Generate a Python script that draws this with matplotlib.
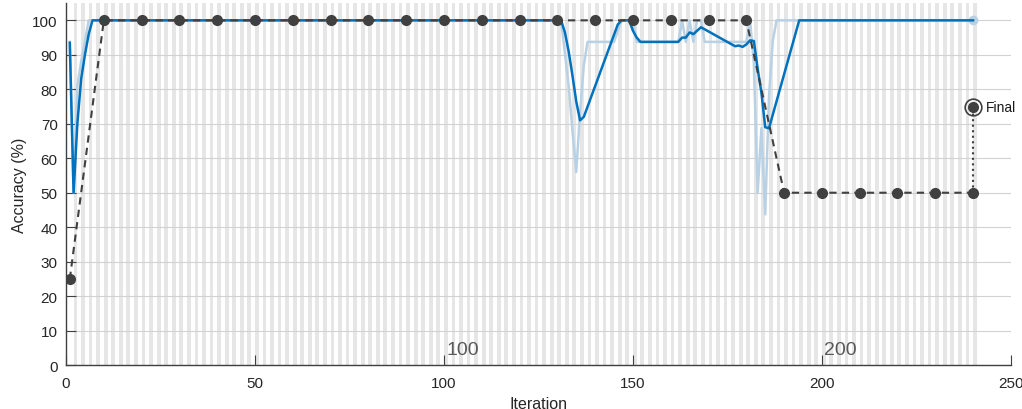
import matplotlib
matplotlib.use("Agg")
import matplotlib.pyplot as plt

plt.rcParams['font.family'] = ['Liberation Sans', 'DejaVu Sans']

# raw training accuracy (light line), vertices
raw_it = [1, 2, 3, 4, 5, 6, 131, 133, 134, 135, 136, 137, 138, 145, 147, 150,
          151, 162, 163, 164, 165, 166, 167, 168, 169, 180, 181, 182, 183,
          184, 185, 186, 187, 188, 240]
raw_acc = [93.75, 50, 81, 88, 94, 100, 100, 81, 68, 56, 73, 87, 93.75, 93.75,
           100, 100, 93.75, 93.75, 100, 93.75, 100, 93.75, 100, 100, 93.75,
           93.75, 100, 87.5, 50, 68.75, 43.75, 78, 94, 100, 100]

# smoothed training accuracy (dark blue)
smooth_it = [1, 2, 3, 4, 5, 6, 7, 131, 132, 133, 134, 135, 136, 137, 146, 147,
             149, 150, 151, 152, 162, 163, 164, 165, 166, 168, 177, 178, 179,
             180, 181, 182, 183, 184, 185, 186, 194, 240]
smooth_acc = [93.5, 50, 70, 83, 90, 96, 100, 100, 96.5, 91, 84, 76.5, 71, 72,
              98.8, 100, 100, 97, 95, 93.75, 93.75, 95, 95, 96.5, 96, 98, 92.5,
              92.7, 92.3, 93, 94.2, 94, 86, 79, 69, 68.7, 100, 100]

# validation accuracy
val_it = [1, 10, 20, 30, 40, 50, 60, 70, 80, 90, 100, 110, 120, 130, 140, 150,
          160, 170, 180, 190, 200, 210, 220, 230, 240]
val_acc = [25] + [100] * 18 + [50] * 6

final_it = 240
final_acc = 75
epoch_labels = [100, 200]
n_iter = 240

fig = plt.figure(figsize=(10.22, 4.10), dpi=100)
ax = fig.add_axes([0.0646, 0.107, 0.9245, 0.883])

# alternating epoch shading
for k in range(2, n_iter + 1, 2):
    ax.axvspan(k, k + 1, color='#e6e6e6', lw=0, zorder=0)

ax.set_xlim(0, 250)
ax.set_ylim(0, 105)
ax.set_yticks(range(0, 101, 10))
ax.set_xticks(range(0, 251, 50))
ax.grid(axis='y', color='#d2d2d2', lw=0.8, zorder=1)
ax.set_axisbelow(True)

ax.plot(raw_it, raw_acc, color='#b9d1e4', lw=1.8, zorder=2)
ax.plot([raw_it[-1]], [raw_acc[-1]], 'o', color='#b9d1e4', ms=6, zorder=2)
ax.plot(smooth_it, smooth_acc, color='#0072bd', lw=1.8, zorder=3)

ax.plot(val_it, val_acc, '--', color='#404040', lw=1.5, dashes=(3.5, 2.5),
        marker='o', ms=7, mfc='#404040', mec='#404040', zorder=4)
ax.plot([final_it, final_it], [val_acc[-1], final_acc], ':', color='#404040',
        lw=1.5, zorder=4)
ax.plot([final_it], [final_acc], 'o', ms=7, color='#404040', zorder=5)
ax.plot([final_it], [final_acc], 'o', ms=12, mfc='none', mec='#404040',
        mew=1.2, zorder=5)
ax.text(final_it + 3.5, final_acc, 'Final', fontsize=10, va='center',
        ha='left', color='#1a1a1a')

for e in epoch_labels:
    ax.text(e + 0.6, 3.3, str(e), fontsize=14, color='#595959', ha='left',
            va='baseline', zorder=6)

for s in ['top', 'right']:
    ax.spines[s].set_visible(False)
for s in ['left', 'bottom']:
    ax.spines[s].set_color('#404040')
    ax.spines[s].set_linewidth(1.0)
ax.tick_params(direction='in', length=7, width=0.8, colors='#404040',
               labelcolor='#262626', labelsize=11)
ax.tick_params(axis='x', pad=8)
ax.tick_params(axis='y', pad=6)

ax.set_xlabel('Iteration', fontsize=11.5, color='#262626', labelpad=4)
ax.set_ylabel('Accuracy (%)', fontsize=11.5, color='#262626', labelpad=4)

fig.savefig('out.png', dpi=100)
